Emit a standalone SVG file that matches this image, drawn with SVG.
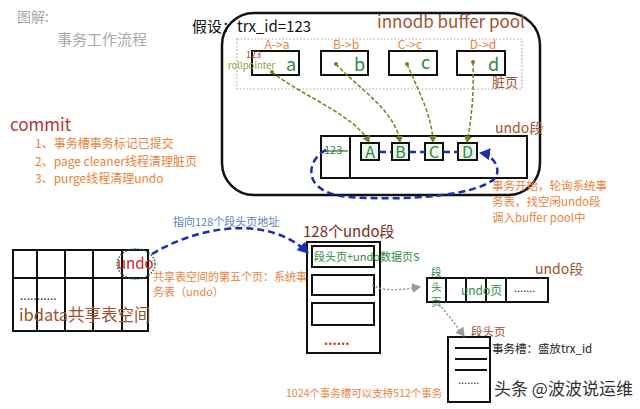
<svg xmlns="http://www.w3.org/2000/svg" width="640" height="409" viewBox="0 0 640 409">
<defs>
<marker id="ao" markerWidth="8" markerHeight="8" refX="6" refY="4" orient="auto" markerUnits="userSpaceOnUse"><path d="M0,0 L7,4 L0,8 z" fill="#7d7d1c"/></marker>
<marker id="ab" markerWidth="12" markerHeight="12" refX="10" refY="6" orient="auto" markerUnits="userSpaceOnUse"><path d="M0,0 L11,6 L0,12 z" fill="#1a2fb0"/></marker>
<marker id="ag" markerWidth="10" markerHeight="10" refX="8" refY="5" orient="auto" markerUnits="userSpaceOnUse"><path d="M0,0 L9,5 L0,10 z" fill="#999"/></marker>
</defs>
<style>
text{font-family:"Noto Sans CJK SC","Liberation Sans",sans-serif}
.box{fill:#fff;stroke:#111;stroke-width:2}
.thin{fill:none;stroke:#111;stroke-width:2}
.org{fill:#e8843c}
.brn{fill:#a0522d}
.grn{fill:#2e8b3e}
.olv{fill:none;stroke:#7d7d1c;stroke-width:1.5;stroke-dasharray:4,2}
.blu{fill:none;stroke:#1a2fb0;stroke-width:2.5;stroke-dasharray:7,4}
.gry{fill:none;stroke:#999;stroke-width:1.6;stroke-dasharray:2,2}
</style>
<rect width="640" height="409" fill="#fff"/>

<g id="title">
<text x="17" y="22" font-size="14" fill="#aaa" font-family="Liberation Serif,Noto Serif CJK SC,serif">图解:</text>
<text x="57" y="45" font-size="15" fill="#aaa" font-family="Liberation Serif,Noto Serif CJK SC,serif">事务工作流程</text>
</g>

<g id="buffer-pool">
<rect x="222" y="13" width="318" height="182" rx="32" fill="none" stroke="#111" stroke-width="2.5"/>
<text x="192" y="32" font-size="15" fill="#111">假设：trx_id=123</text>
<text x="377" y="28" font-size="17" class="brn">innodb buffer pool</text>
<rect x="237" y="39" width="285" height="50" fill="none" stroke="#aaa" stroke-width="1.2" stroke-dasharray="1.5,2"/>
<text x="492" y="87" font-size="13" class="brn">脏页</text>
</g>

<g id="page-a">
<rect x="252" y="51" width="47" height="24" class="box"/>
<text x="277" y="49" font-size="12" class="org" text-anchor="middle">A-&gt;a</text>
<text x="246" y="57.5" font-size="9" fill="#c0392b">123</text>
<text x="228" y="68.5" font-size="9.5" fill="#9a9a30">rollpointer</text>
<text x="286" y="71" font-size="18" class="grn">a</text>
<circle cx="272" cy="72" r="2" fill="#7d7d1c"/>
</g>
<g id="page-b">
<rect x="321" y="51" width="47" height="24" class="box"/>
<text x="346" y="49" font-size="12" class="org" text-anchor="middle">B-&gt;b</text>
<text x="354" y="71" font-size="18" class="grn">b</text>
<circle cx="336" cy="64" r="2" fill="#7d7d1c"/>
</g>
<g id="page-c">
<rect x="389" y="51" width="48" height="24" class="box"/>
<text x="410" y="49" font-size="12" class="org" text-anchor="middle">C-&gt;c</text>
<text x="421" y="69" font-size="18" class="grn">c</text>
<circle cx="407" cy="64" r="2" fill="#7d7d1c"/>
</g>
<g id="page-d">
<rect x="457" y="51" width="48" height="24" class="box"/>
<text x="483" y="49" font-size="12" class="org" text-anchor="middle">D-&gt;d</text>
<text x="488" y="71" font-size="18" class="grn">d</text>
<circle cx="473" cy="62" r="2" fill="#7d7d1c"/>
</g>

<g id="undo-seg-top">
<rect x="321" y="136" width="206" height="42" class="box"/>
<line x1="350" y1="136" x2="350" y2="178" stroke="#111" stroke-width="2"/>
<text x="324" y="154" font-size="11" class="grn">123</text>
<line x1="323" y1="151" x2="348" y2="151" stroke="#2e6b2e" stroke-width="1.2"/>
<text x="495" y="133" font-size="14" class="brn">undo段</text>
<rect x="361" y="143" width="18" height="17" fill="#eef6ee" stroke="#111" stroke-width="2"/>
<text x="370" y="158" font-size="16" class="grn" text-anchor="middle">A</text>
<rect x="392" y="143" width="17" height="17" fill="#eef6ee" stroke="#111" stroke-width="2"/>
<text x="400.5" y="158" font-size="16" class="grn" text-anchor="middle">B</text>
<rect x="425" y="143" width="18" height="17" fill="#eef6ee" stroke="#111" stroke-width="2"/>
<text x="434" y="158" font-size="16" class="grn" text-anchor="middle">C</text>
<rect x="458" y="143" width="19" height="17" fill="#eef6ee" stroke="#111" stroke-width="2"/>
<text x="467.5" y="158" font-size="16" class="grn" text-anchor="middle">D</text>
<text x="492" y="190" font-size="11.5" class="org">事务开始，轮询系统事</text>
<text x="492" y="206" font-size="11.5" class="org">务表，找空闲undo段</text>
<text x="492" y="222" font-size="11.5" class="org">调入buffer pool中</text>
</g>

<g id="commit">
<text x="10" y="131" font-size="17" fill="#b83232">commit</text>
<text x="35" y="148" font-size="12" class="org">1、事务槽事务标记已提交</text>
<text x="35" y="165.5" font-size="12" class="org">2、page cleaner线程清理脏页</text>
<text x="35" y="183" font-size="12" class="org">3、purge线程清理undo</text>
</g>

<g id="ibdata">
<rect x="13" y="250" width="135" height="81" class="thin"/>
<line x1="13" y1="278" x2="148" y2="278" stroke="#111" stroke-width="2"/>
<line x1="37" y1="250" x2="37" y2="331" stroke="#111" stroke-width="2"/>
<line x1="65" y1="250" x2="65" y2="331" stroke="#111" stroke-width="2"/>
<line x1="93" y1="250" x2="93" y2="331" stroke="#111" stroke-width="2"/>
<line x1="122" y1="250" x2="122" y2="331" stroke="#111" stroke-width="2"/>
<ellipse cx="136" cy="264" rx="19" ry="15" fill="none" stroke="#2e6b2e" stroke-width="1.5" stroke-dasharray="1.5,1.5"/>
<text x="117" y="269" font-size="15" fill="#d02020">undo</text>
<text x="20" y="300" font-size="12" fill="#333">...........</text>
<text x="19" y="321" font-size="16.5" class="brn">ibdata共享表空间</text>
<text x="153" y="281" font-size="11" class="org">共享表空间的第五个页：系统事</text>
<text x="153" y="296" font-size="11" class="org">务表（undo）</text>
<text x="173" y="226" font-size="11" fill="#5b7fbf">指向128个段头页地址</text>
</g>

<g id="undo-128">
<text x="303" y="237" font-size="15" fill="#7a2e1a">128个undo段</text>
<rect x="307" y="242" width="73" height="111" class="box"/>
<rect x="312" y="246" width="62" height="21" class="thin"/>
<rect x="312" y="275" width="62" height="20" class="thin"/>
<rect x="312" y="303" width="62" height="22" class="thin"/>
<text x="314" y="261" font-size="11" class="grn">段头页+undo数据页S</text>
<text x="324" y="345" font-size="13" fill="#c0392b" font-weight="bold">......</text>
</g>

<g id="undo-seg-bottom">
<rect x="427" y="278" width="121" height="24" class="thin"/>
<line x1="446" y1="278" x2="446" y2="302" stroke="#111" stroke-width="2"/>
<line x1="466" y1="278" x2="466" y2="302" stroke="#111" stroke-width="2"/>
<line x1="486" y1="278" x2="486" y2="302" stroke="#111" stroke-width="2"/>
<line x1="506" y1="278" x2="506" y2="302" stroke="#111" stroke-width="2"/>
<text x="431" y="276" font-size="10.5" class="grn">段</text>
<text x="431" y="291" font-size="10.5" class="grn">头</text>
<text x="431" y="306" font-size="10.5" class="grn">页</text>
<text x="461" y="295" font-size="12" class="grn">undo页</text>
<text x="514" y="292" font-size="11" fill="#333">.......</text>
<text x="535" y="274" font-size="14" class="brn">undo段</text>
</g>

<g id="header-page">
<text x="471" y="336" font-size="11.5" class="brn">段头页</text>
<rect x="448" y="337" width="42" height="65" class="box"/>
<line x1="455" y1="348" x2="491" y2="348" stroke="#111" stroke-width="2"/>
<line x1="455" y1="359" x2="487" y2="359" stroke="#111" stroke-width="2"/>
<line x1="455" y1="370" x2="487" y2="370" stroke="#111" stroke-width="2"/>
<text x="458" y="384" font-size="11" fill="#333">.......</text>
<text x="492" y="353" font-size="11.5" fill="#222">事务槽：盛放trx_id</text>
<text x="286" y="397" font-size="10.5" class="org">1024个事务槽可以支持512个事务</text>
<text x="494" y="395" font-size="17" fill="#333">头条 @波波说运维</text>
</g>

<g id="connectors">
<path d="M272,72 C300,95 355,115 369,142" class="olv" marker-end="url(#ao)"/>
<path d="M336,64 C360,90 395,110 400,142" class="olv" marker-end="url(#ao)"/>
<path d="M407,64 C418,90 432,115 433,142" class="olv" marker-end="url(#ao)"/>
<path d="M473,62 C474,90 472,118 467,142" class="olv" marker-end="url(#ao)"/>
<line x1="379" y1="152" x2="392" y2="152" class="blu" stroke-width="2" stroke-dasharray="4,3"/>
<line x1="409" y1="152" x2="425" y2="152" class="blu" stroke-width="2" stroke-dasharray="4,3"/>
<line x1="443" y1="152" x2="458" y2="152" class="blu" stroke-width="2" stroke-dasharray="4,3"/>
<path d="M326,150 C308,158 298,192 348,197 C405,201 472,196 493,180 C503,172 495,155 480,153" class="blu" marker-end="url(#ab)"/>
<path d="M152,254 C200,225 270,215 308,253" class="blu" marker-end="url(#ab)"/>
<path d="M372,285 C385,292 400,290 420,287" class="gry" marker-end="url(#ag)"/>
<path d="M439,304 C448,315 456,325 464,336" class="gry" marker-end="url(#ag)"/>
</g>
</svg>
